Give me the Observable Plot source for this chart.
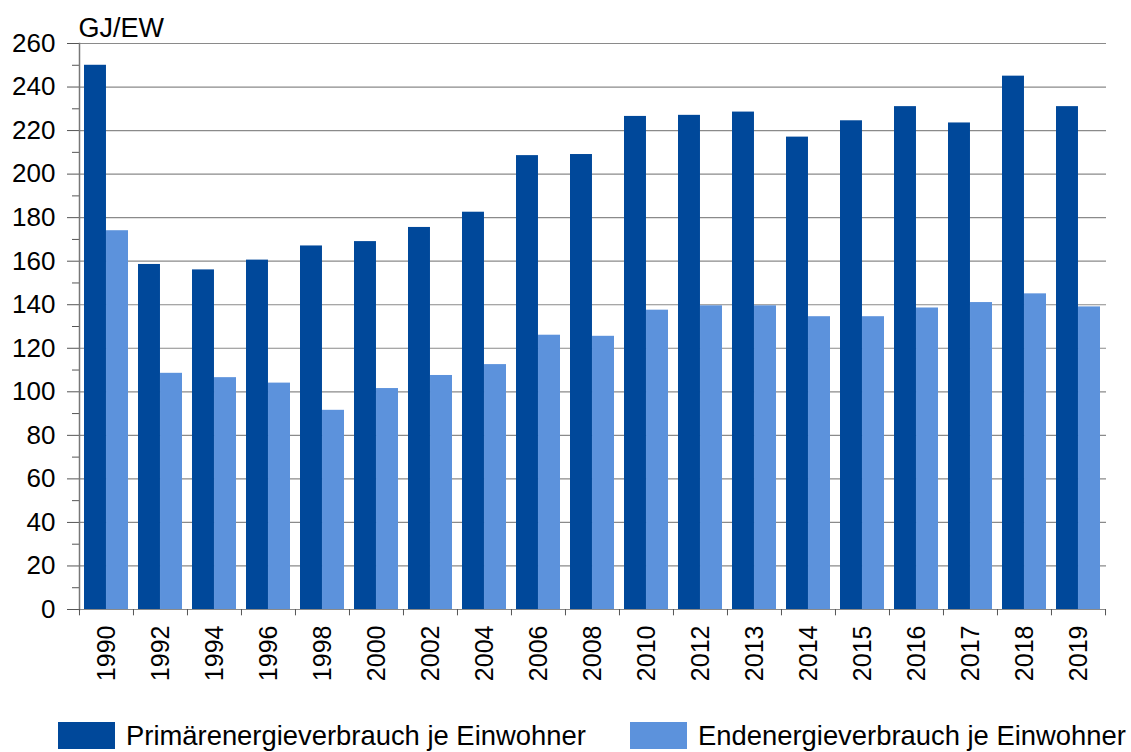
<!DOCTYPE html>
<html><head><meta charset="utf-8">
<script src="https://cdn.jsdelivr.net/npm/d3@7"></script>
<script src="https://cdn.jsdelivr.net/npm/@observablehq/plot@0.6"></script>
<style>
body{margin:0;background:#fff;font-family:"Liberation Sans",Arial,sans-serif;}
#wrap{position:relative;width:1131px;height:752px;overflow:hidden;}
.item{position:absolute;top:722px;display:flex;align-items:center;font-size:27.4px;line-height:1;color:#000;white-space:nowrap;}
.sw{width:57px;height:27px;margin-right:11px;}
</style>
</head><body>
<div id="wrap"></div>
<script>
const years = ["1990","1992","1994","1996","1998","2000","2002","2004","2006","2008","2010","2012","2013","2014","2015","2016","2017","2018","2019"];
const primaer = [250, 158.5, 156, 160.5, 167, 169, 175.5, 182.5, 208.5, 209, 226.5, 227, 228.5, 217, 224.5, 231, 223.5, 245, 231];
const ende = [174, 108.5, 106.5, 104, 91.5, 101.5, 107.5, 112.5, 126, 125.5, 137.5, 139.5, 139.5, 134.5, 134.5, 138.5, 141, 145, 139];
const seriesNames = ["Primärenergieverbrauch je Einwohner", "Endenergieverbrauch je Einwohner"];
const colors = ["#00489A", "#5C92DC"];
const unitLabel = "GJ/EW";
const majorTicks = d3.range(0, 261, 20);
const minorTicks = d3.range(10, 260, 20);

const W = 1131, H = 700, ML = 79, MR = 25, MT = 43, MB = 91;
const padInner = 0.185, padOuter = 0.0925;
const step = (W - ML - MR) / (years.length - padInner + 2 * padOuter);
const bw = step * (1 - padInner);

const rows = years.map((y, i) => ({year: y, p: primaer[i], e: ende[i]}));

const chart = Plot.plot({
  width: W, height: H,
  marginLeft: ML, marginRight: MR, marginTop: MT, marginBottom: MB,
  style: {fontFamily: '"Liberation Sans", Arial, sans-serif', color: "#000", background: "#fff"},
  x: {domain: years, paddingInner: padInner, paddingOuter: padOuter, axis: null},
  y: {domain: [0, 260], axis: null},
  marks: [
    Plot.gridY(majorTicks, {stroke: "#8a8a8a", strokeOpacity: 1, strokeWidth: 1.2}),
    Plot.barY(rows, {x: "year", y: "p", fill: colors[0], insetRight: bw / 2}),
    Plot.barY(rows, {x: "year", y: "e", fill: colors[1], insetLeft: bw / 2}),
    Plot.axisY(majorTicks, {tickSize: 12, tickPadding: 12, fontSize: 26, label: null, stroke: "#555"}),
    Plot.axisY(minorTicks, {tickSize: 7, tickFormat: () => "", label: null, stroke: "#555"}),
    Plot.frame({anchor: "left", stroke: "#777", strokeWidth: 1.5}),
    Plot.ruleX(years, {x: d => d, y1: 0, y2: -2.9, dx: -step / 2, stroke: "#555"}),
    Plot.ruleX([years[years.length - 1]], {x: d => d, y1: 0, y2: -2.9, dx: step / 2, stroke: "#555"}),
    Plot.axisX({tickRotate: -90, tickSize: 0, tickPadding: 16, fontSize: 25, label: null}),
    Plot.text([unitLabel], {frameAnchor: "top-left", text: d => d, textAnchor: "start", lineAnchor: "bottom", dy: -7, dx: -1, fontSize: 27, fill: "#000"})
  ]
});
const wrap = document.getElementById("wrap");
wrap.appendChild(chart);

const legendPos = [58, 630];
seriesNames.forEach((name, i) => {
  const it = document.createElement("div");
  it.className = "item";
  it.style.left = legendPos[i] + "px";
  it.innerHTML = `<span class="sw" style="background:${colors[i]}"></span><span>${name}</span>`;
  wrap.appendChild(it);
});
</script>
</body></html>
